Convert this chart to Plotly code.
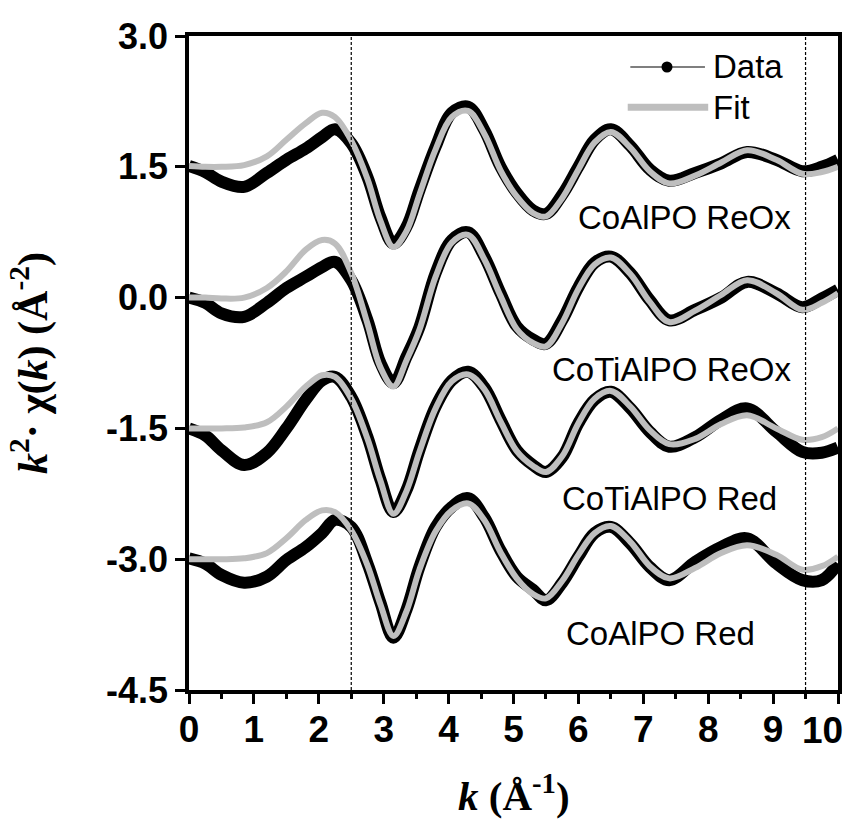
import plotly.graph_objects as go

# k grid (Å^-1) shared by all spectra
K = [0, 0.25, 0.5, 0.85, 1.2, 1.5, 1.8, 2.05, 2.25, 2.5, 2.75, 2.95, 3.15, 3.35, 3.55,
     3.8, 4.05, 4.3, 4.55, 4.8, 5.05, 5.3, 5.5, 5.75, 6.0, 6.25, 6.5, 6.8, 7.1, 7.4,
     7.8, 8.2, 8.6, 9.05, 9.45, 9.75, 10.0]

# k^2-weighted chi(k), vertically offset per sample
coalpo_reox_data = [1.51, 1.44, 1.33, 1.27, 1.43, 1.58, 1.71, 1.84, 1.93, 1.77, 1.38, 0.92, 0.62, 0.81, 1.23,
                    1.73, 2.12, 2.19, 1.92, 1.50, 1.20, 1.00, 0.96, 1.18, 1.50, 1.81, 1.93, 1.74, 1.47, 1.34,
                    1.43, 1.54, 1.67, 1.58, 1.45, 1.50, 1.58]
coalpo_reox_fit = [1.51, 1.50, 1.50, 1.52, 1.62, 1.81, 2.00, 2.12, 2.07, 1.80, 1.36, 0.88, 0.58, 0.76, 1.18,
                   1.70, 2.07, 2.14, 1.88, 1.46, 1.16, 0.97, 0.93, 1.14, 1.47, 1.78, 1.90, 1.72, 1.45, 1.31,
                   1.40, 1.55, 1.69, 1.58, 1.42, 1.44, 1.50]

cotialpo_reox_data = [0.00, -0.06, -0.18, -0.22, -0.06, 0.11, 0.24, 0.35, 0.41, 0.20, -0.26, -0.75, -0.98, -0.68, -0.34,
                      0.28, 0.66, 0.75, 0.47, 0.05, -0.33, -0.48, -0.53, -0.26, 0.12, 0.40, 0.47, 0.28, -0.03, -0.26,
                      -0.14, 0.00, 0.18, 0.05, -0.11, -0.01, 0.09]
cotialpo_reox_fit = [0.00, 0.00, -0.01, 0.00, 0.11, 0.30, 0.55, 0.66, 0.62, 0.28, -0.30, -0.80, -1.02, -0.72, -0.37,
                     0.24, 0.63, 0.72, 0.44, 0.02, -0.36, -0.52, -0.56, -0.29, 0.10, 0.38, 0.46, 0.27, -0.05, -0.28,
                     -0.15, 0.03, 0.20, 0.05, -0.14, -0.06, 0.05]

cotialpo_red_data = [-1.50, -1.58, -1.75, -1.92, -1.78, -1.50, -1.17, -0.95, -0.91, -1.14, -1.60, -2.09, -2.46, -2.21, -1.75,
                     -1.25, -0.95, -0.85, -1.03, -1.40, -1.75, -1.92, -2.00, -1.83, -1.44, -1.17, -1.08, -1.27, -1.54, -1.71,
                     -1.60, -1.40, -1.27, -1.54, -1.77, -1.78, -1.72]
cotialpo_red_fit = [-1.50, -1.50, -1.50, -1.49, -1.43, -1.25, -1.02, -0.89, -0.91, -1.16, -1.62, -2.10, -2.48, -2.22, -1.77,
                    -1.27, -0.96, -0.88, -1.05, -1.42, -1.76, -1.93, -2.00, -1.82, -1.44, -1.16, -1.07, -1.25, -1.52, -1.68,
                    -1.62, -1.45, -1.35, -1.50, -1.63, -1.60, -1.50]

coalpo_red_data = [-2.99, -3.05, -3.18, -3.27, -3.20, -3.01, -2.86, -2.70, -2.55, -2.63, -3.05, -3.50, -3.90, -3.58, -3.09,
                   -2.63, -2.40, -2.30, -2.52, -2.90, -3.20, -3.35, -3.47, -3.27, -2.97, -2.70, -2.63, -2.82, -3.09, -3.24,
                   -3.03, -2.86, -2.76, -3.05, -3.24, -3.24, -3.05]
coalpo_red_fit = [-3.00, -3.00, -3.00, -2.99, -2.93, -2.76, -2.55, -2.44, -2.46, -2.67, -3.07, -3.52, -3.88, -3.60, -3.12,
                  -2.68, -2.44, -2.36, -2.55, -2.92, -3.22, -3.40, -3.45, -3.25, -2.95, -2.70, -2.62, -2.80, -3.08, -3.22,
                  -3.10, -2.93, -2.84, -2.95, -3.12, -3.08, -2.97]

samples = ["CoAlPO ReOx", "CoTiAlPO ReOx", "CoTiAlPO Red", "CoAlPO Red"]
data_series = [coalpo_reox_data, cotialpo_reox_data, cotialpo_red_data, coalpo_red_data]
fit_series = [coalpo_reox_fit, cotialpo_reox_fit, cotialpo_red_fit, coalpo_red_fit]
label_pos = [(7.63, 0.92), (7.43, -0.83), (7.41, -2.30), (7.27, -3.85)]

fit_window = [2.5, 9.5]
y_ticks = [-4.5, -3.0, -1.5, 0.0, 1.5, 3.0]
y_tick_text = ["-4.5", "-3.0", "-1.5", "0.0", "1.5", "3.0"]
x_ticks = list(range(0, 11))
# the last label is set slightly inward so it stays inside the frame width
x_tick_text = [str(v) for v in x_ticks[:-1]] + [""]
last_x_label = "10"

DATA_COLOR = "black"
FIT_COLOR = "#BEBEBE"
SANS = "Arial, Liberation Sans, sans-serif"
SERIF = "Times New Roman, Liberation Serif, serif"

fig = go.Figure()

for name, d in zip(samples, data_series):
    fig.add_trace(go.Scatter(x=K, y=d, mode="lines", name=name + " data",
                             line=dict(color=DATA_COLOR, width=12, shape="spline"),
                             showlegend=False))
for name, f in zip(samples, fit_series):
    fig.add_trace(go.Scatter(x=K, y=f, mode="lines", name=name + " fit",
                             line=dict(color=FIT_COLOR, width=6, shape="spline"),
                             showlegend=False))

# fit window boundaries
for kx in fit_window:
    fig.add_shape(type="line", xref="x", yref="paper", x0=kx, x1=kx, y0=0, y1=1,
                  line=dict(color="black", width=1.2, dash="3px,2px"))

# sample labels
for name, (lx, ly) in zip(samples, label_pos):
    fig.add_annotation(x=lx, y=ly, text=name, showarrow=False,
                       font=dict(family=SANS, size=33, color="black"))

# legend keys
fig.add_shape(type="line", xref="paper", yref="paper", x0=0.680, x1=0.795, y0=0.9526, y1=0.9526,
              line=dict(color="black", width=1.2))
fig.add_shape(type="circle", xref="paper", yref="paper", xsizemode="pixel", ysizemode="pixel",
              xanchor=0.7365, yanchor=0.9526, x0=-5.5, x1=5.5, y0=-5.5, y1=5.5,
              fillcolor="black", line=dict(color="black", width=0))
fig.add_shape(type="line", xref="paper", yref="paper", x0=0.676, x1=0.800, y0=0.891, y1=0.891,
              line=dict(color=FIT_COLOR, width=7))
fig.add_annotation(xref="paper", yref="paper", x=0.805, y=0.9526, text="Data", showarrow=False,
                   xanchor="left", yanchor="middle", font=dict(family=SANS, size=33, color="black"))
fig.add_annotation(xref="paper", yref="paper", x=0.805, y=0.891, text="Fit", showarrow=False,
                   xanchor="left", yanchor="middle", font=dict(family=SANS, size=33, color="black"))

# last x tick label
fig.add_annotation(xref="paper", yref="paper", x=0.976, y=-0.0625, text=last_x_label, showarrow=False,
                   xanchor="center", yanchor="middle",
                   font=dict(family=SANS, size=37, color="black", weight="bold"))

# axis titles
fig.add_annotation(xref="paper", yref="paper", x=0.5, y=-0.158,
                   text="<b><i>k</i> (Å<sup>-1</sup>)</b>", showarrow=False,
                   xanchor="center", yanchor="middle", font=dict(family=SERIF, size=41, color="black"))
fig.add_annotation(xref="paper", yref="paper", x=-0.245, y=0.5, textangle=-90,
                   text="<b><i>k</i><sup>2</sup>· χ(<i>k</i>) (Å<sup>-2</sup>)</b>", showarrow=False,
                   xanchor="center", yanchor="middle", font=dict(family=SERIF, size=42, color="black"))

fig.update_xaxes(range=[0, 10], tickmode="array", tickvals=x_ticks, ticktext=x_tick_text,
                 ticks="outside", ticklen=10, tickwidth=3, tickcolor="black",
                 minor=dict(dtick=0.5, tick0=0, ticks="outside", ticklen=5, tickwidth=3, tickcolor="black"),
                 showline=True, linewidth=3.5, linecolor="black", mirror=True,
                 showgrid=False, zeroline=False, ticklabelstandoff=-6,
                 tickfont=dict(family=SANS, size=37, color="black", weight="bold"))
fig.update_yaxes(range=[-4.5, 3.0], tickmode="array", tickvals=y_ticks, ticktext=y_tick_text,
                 ticks="outside", ticklen=10, tickwidth=3, tickcolor="black",
                 showline=True, linewidth=3.5, linecolor="black", mirror=True,
                 showgrid=False, zeroline=False, ticklabelstandoff=0,
                 tickfont=dict(family=SANS, size=36, color="black", weight="bold"))

fig.update_layout(width=866, height=821, margin=dict(l=189, r=28, t=36, b=131),
                  plot_bgcolor="white", paper_bgcolor="white", showlegend=False)

fig.write_html("out.html")
